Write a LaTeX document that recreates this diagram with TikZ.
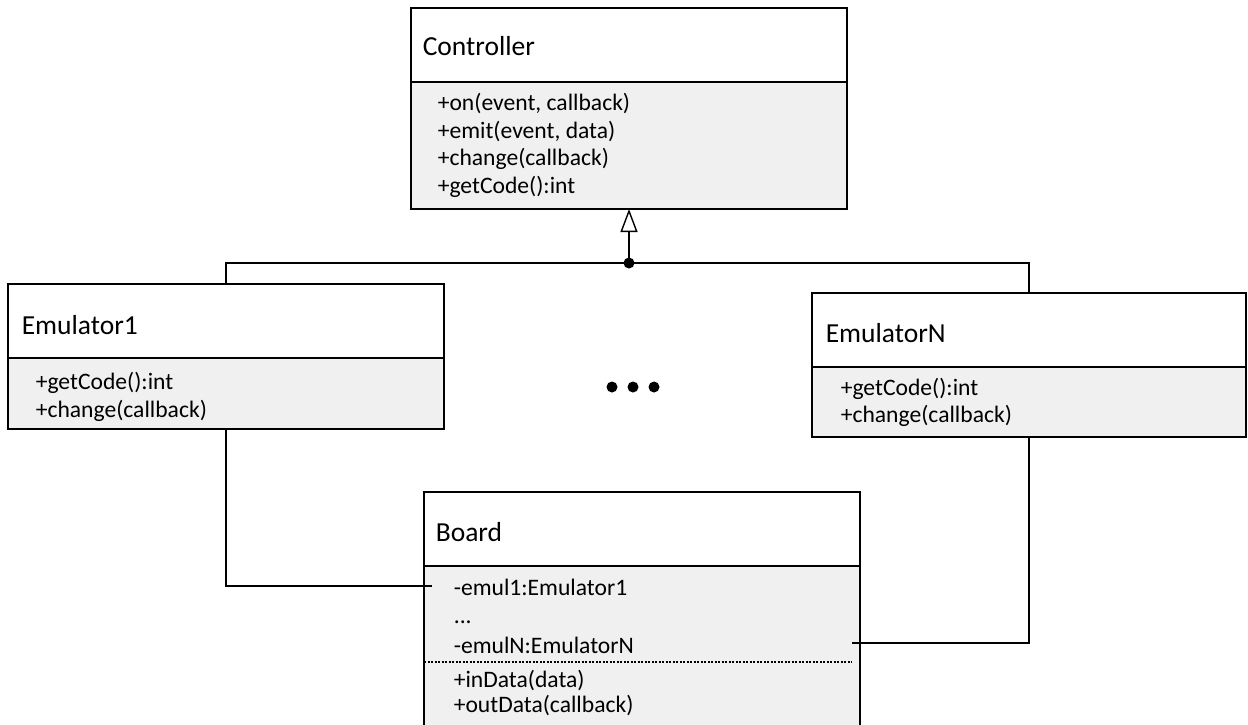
\documentclass[tikz,border=0pt]{standalone}
\usepackage{fontspec}
\setmainfont{Carlito}
\usetikzlibrary{arrows.meta,calc}
\definecolor{memberfill}{RGB}{240,240,240}
\begin{document}
\begin{tikzpicture}[x=1pt,y=-1pt,line width=1.6pt,
  titlebox/.style={draw,fill=white,anchor=north west,inner sep=0pt,outer sep=0pt},
  memberbox/.style={draw,fill=memberfill,anchor=north west,inner sep=0pt,outer sep=0pt},
  titletext/.style={anchor=base west,inner sep=0pt,font=\fontsize{27.5}{33}\selectfont},
  membertext/.style={anchor=base west,inner sep=0pt,font=\fontsize{23.6}{28}\selectfont},
  separator/.style={line width=1.1pt,dash pattern=on 2pt off 1.5pt},
  inherit/.style={-{Triangle[open,length=23pt,width=17pt]},line width=1.4pt}]
\useasboundingbox (0,0) rectangle (1248,724);
\clip (0,0) rectangle (1248,724);

% Controller
\node[titlebox,minimum width=436pt,minimum height=74pt] (ctrl) at (411,8) {};
\node[memberbox,minimum width=436pt,minimum height=127pt] (ctrlm) at (411,82) {};
\node[titletext] (ctrlT) at (422,55) {Controller};
\node[membertext] (c1) at (437,110) {+on(event, callback)};
\node[membertext] (c2) at (437,138) {+emit(event, data)};
\node[membertext] (c3) at (437,165) {+change(callback)};
\node[membertext] (c4) at (437,193) {+getCode():int};

% Emulator1
\node[titlebox,minimum width=436pt,minimum height=74pt] (emu1) at (8,284) {};
\node[memberbox,minimum width=436pt,minimum height=71pt] (emu1m) at (8,358) {};
\node[titletext] (emu1T) at (21,334) {Emulator1};
\node[membertext] (e11) at (35,389) {+getCode():int};
\node[membertext] (e12) at (35,417) {+change(callback)};

% EmulatorN
\node[titlebox,minimum width=434pt,minimum height=74pt] (emuN) at (812,293) {};
\node[memberbox,minimum width=434pt,minimum height=70pt] (emuNm) at (812,367) {};
\node[titletext] (emuNT) at (825,342) {EmulatorN};
\node[membertext] (eN1) at (840,395) {+getCode():int};
\node[membertext] (eN2) at (840,422) {+change(callback)};

% Board
\node[titlebox,minimum width=436pt,minimum height=74pt] (board) at (424,492) {};
\node[memberbox,minimum width=436pt,minimum height=200pt] (boardm) at (424,566) {};
\node[titletext] (boardT) at (435,541) {Board};
\node[membertext] (b1t) at (453,595) {-emul1:Emulator1};
\node[membertext] (b2t) at (453,623) {...};
\node[membertext] (b3t) at (453,653) {-emulN:EmulatorN};
\draw[separator] (424,662) -- (852,662);
\node[membertext] (b4t) at (453,687) {+inData(data)};
\node[membertext] (b5t) at (453,712) {+outData(callback)};

% inheritance tree
\coordinate (junction) at ($(ctrlm.south)+(0,54)$);
\draw[inherit] (junction) -- (ctrlm.south);
\fill (junction) circle (5.5pt);
\draw (emu1.north) |- (junction) -| (emuN.north);

% associations to the board
\coordinate (b1) at (432,586);
\coordinate (bN) at (852,643);
\draw (emu1m.south) |- (b1);
\draw (emuNm.south) |- (bN);

% ellipsis between the emulators
\fill (612,387) circle (5.5pt);
\fill (633,387) circle (5.5pt);
\fill (654,387) circle (5.5pt);
\end{tikzpicture}
\end{document}
